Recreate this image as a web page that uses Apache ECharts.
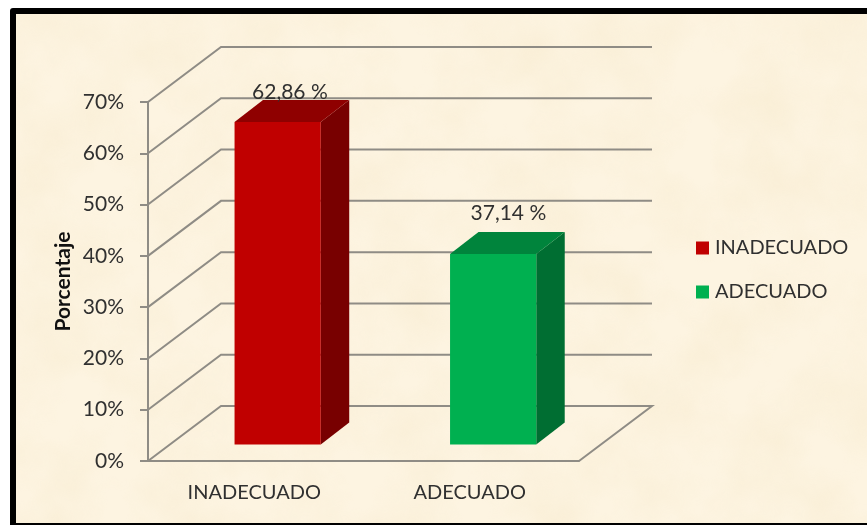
<!DOCTYPE html>
<html>
<head>
<meta charset="utf-8">
<style>
  html, body { margin: 0; height: 100%; background: #fff; overflow: hidden; }
  .frame {
    position: absolute; left: 10px; top: 8px; width: 900px; height: 509px;
    border: 6px solid #000; border-radius: 3px; background: #fdf4e1; overflow: hidden;
  }
  .frame svg { position: absolute; left: 0; top: 0; }
  #chart { position: absolute; left: 0; top: 0; width: 867px; height: 525px; }
</style>
</head>
<body>
<div class="frame">
  <svg width="900" height="520">
    <filter id="paper">
      <feTurbulence type="fractalNoise" baseFrequency="0.014" numOctaves="4" seed="7"/>
      <feColorMatrix type="matrix" values="0 0 0 0 0.91  0 0 0 0 0.80  0 0 0 0 0.58  1.6 0 0 0 -0.55"/>
    </filter>
    <rect width="900" height="520" filter="url(#paper)" opacity="0.45"/>
  </svg>
</div>
<div id="chart"></div>
<script src="https://cdn.jsdelivr.net/npm/echarts@6/dist/echarts.min.js"></script>
<script>
const categories = ['INADECUADO', 'ADECUADO']
const values = [62.86, 37.14]
const yTicks = [0, 10, 20, 30, 40, 50, 60, 70]
const frontColors = ['#c00000', '#00b050']
const topColors = ['#8f0000', '#00843c']
const sideColors = ['#780000', '#006e32']
// value labels were moved by hand in the original
const labelShift = [[-2, -8], [1, -19]]

const FONT = 'Lato'
const TEXT = '#303030'
const LINE = '#8f8c85'
// wall depth in px, the bars sit between 30% and 70% of it
const DX = 73
const DY = -55

const chart = echarts.init(document.getElementById('chart'))

const renderWall = (params, api) => {
  const v = api.value(1)
  const left = params.coordSys.x
  const right = left + params.coordSys.width
  const y = api.coord([0, v])[1]
  const points = [[left, y], [left + DX, y + DY], [right + DX, y + DY]]
  if (v === 0) points.push([right, y])
  return {
    type: 'polyline',
    shape: { points },
    style: { stroke: LINE, lineWidth: 2, fill: null }
  }
}

const renderBar = (i) => (params, api) => {
  const top = api.coord([api.value(0), api.value(1)])
  const bottom = api.coord([api.value(0), 0])
  const w = api.size([1, 0])[0] * 0.4
  const x0 = top[0] - w / 2 + DX * 0.3
  const x1 = x0 + w
  const yTop = top[1] + DY * 0.3
  const yBottom = bottom[1] + DY * 0.3
  const sx = DX * 0.39
  const sy = DY * 0.4
  const label = String(api.value(1)).replace('.', ',') + ' %'
  return {
    type: 'group',
    children: [
      { type: 'polygon', shape: { points: [[x1, yTop], [x1 + sx, yTop + sy], [x1 + sx, yBottom + sy], [x1, yBottom]] }, style: { fill: sideColors[i] } },
      { type: 'polygon', shape: { points: [[x0, yTop], [x0 + sx, yTop + sy], [x1 + sx, yTop + sy], [x1, yTop]] }, style: { fill: topColors[i] } },
      { type: 'rect', shape: { x: x0, y: yTop, width: w, height: yBottom - yTop }, style: { fill: frontColors[i] } },
      { type: 'text', style: { x: (x0 + x1 + sx) / 2 + labelShift[i][0], y: yTop + sy + labelShift[i][1], text: label, fill: TEXT, font: '21px ' + FONT, textAlign: 'center', textVerticalAlign: 'middle' } }
    ]
  }
}

chart.setOption({
  animation: false,
  backgroundColor: 'transparent',
  textStyle: { fontFamily: FONT },
  grid: { left: 148, right: 288, top: 102, bottom: 64 },
  legend: {
    data: categories,
    orient: 'vertical',
    left: 696,
    top: 238,
    padding: 0,
    itemWidth: 13,
    itemHeight: 13,
    itemGap: 24,
    icon: 'rect',
    textStyle: { fontFamily: FONT, fontSize: 20, color: TEXT, padding: [0, 0, 0, 1] }
  },
  xAxis: {
    type: 'category',
    data: categories,
    axisLine: { lineStyle: { color: LINE, width: 2 } },
    axisTick: { show: false },
    axisLabel: { color: TEXT, fontSize: 20, fontFamily: FONT, margin: 22, padding: [0, 3, 0, 0] }
  },
  yAxis: {
    type: 'value',
    min: 0,
    max: 70,
    interval: 10,
    name: 'Porcentaje',
    nameLocation: 'middle',
    nameGap: 74,
    nameTextStyle: { color: '#111', fontSize: 21, fontWeight: 'bold', fontFamily: FONT },
    axisLine: { show: true, lineStyle: { color: LINE, width: 2 } },
    axisTick: { show: true, length: 8, lineStyle: { color: LINE, width: 2 } },
    axisLabel: { color: TEXT, fontSize: 21, fontFamily: FONT, margin: 24, padding: [10, 0, 0, 0], formatter: '{value}%' },
    splitLine: { show: false }
  },
  series: [
    {
      type: 'custom',
      renderItem: renderWall,
      data: yTicks.map((t) => [0, t]),
      silent: true,
      z: 1
    },
    ...categories.map((name, i) => ({
      name,
      type: 'custom',
      renderItem: renderBar(i),
      itemStyle: { color: frontColors[i] },
      data: [[i, values[i]]],
      z: 2
    }))
  ]
})
</script>
</body>
</html>
